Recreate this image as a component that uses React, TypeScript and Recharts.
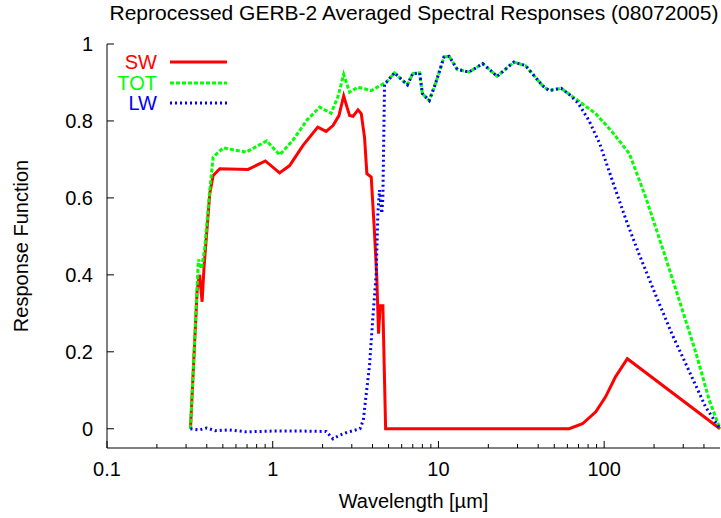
import React from "react";
import { LineChart, Line, XAxis, YAxis } from "recharts";

// wavelengths in micrometres, responses
const swWave = [0.319, 0.35, 0.362, 0.375, 0.385, 0.417, 0.437, 0.479, 0.71, 0.903, 1.1, 1.265, 1.52, 1.87, 2.1, 2.31, 2.51, 2.68, 2.91, 3.05, 3.27, 3.42, 3.58, 3.7, 3.93, 4.1, 4.25, 4.35, 4.45, 4.62, 4.8, 61.5, 74, 89, 102, 117, 138, 500];
const swResp = [0, 0.36, 0.4, 0.33, 0.42, 0.611, 0.658, 0.676, 0.674, 0.696, 0.665, 0.684, 0.736, 0.784, 0.773, 0.788, 0.814, 0.865, 0.814, 0.812, 0.829, 0.819, 0.758, 0.663, 0.654, 0.52, 0.39, 0.247, 0.32, 0.32, 0, 0, 0.013, 0.044, 0.083, 0.135, 0.182, 0];

const totWave = [0.319, 0.356, 0.372, 0.389, 0.417, 0.437, 0.502, 0.69, 0.92, 1.1, 1.32, 1.6, 1.92, 2.25, 2.47, 2.68, 2.91, 3.27, 3.93, 4.86, 5.43, 6.5, 7.0, 7.7, 8.0, 8.8, 9.6, 10.8, 11.6, 13.0, 15.3, 18.5, 22.6, 28.5, 33.5, 42.4, 46.5, 55, 67, 89, 112, 142, 178, 224, 284, 359, 431, 500];
const totResp = [0, 0.44, 0.416, 0.47, 0.619, 0.706, 0.73, 0.719, 0.748, 0.712, 0.749, 0.801, 0.836, 0.82, 0.862, 0.921, 0.875, 0.888, 0.879, 0.901, 0.925, 0.894, 0.923, 0.925, 0.871, 0.853, 0.897, 0.966, 0.968, 0.934, 0.927, 0.949, 0.916, 0.953, 0.944, 0.892, 0.879, 0.885, 0.858, 0.819, 0.771, 0.715, 0.602, 0.472, 0.334, 0.195, 0.074, 0];

const lwWave = [0.319, 0.36, 0.4, 0.45, 0.55, 0.69, 1.0, 1.52, 2.1, 2.31, 2.53, 2.78, 3.05, 3.36, 3.52, 3.65, 3.84, 4.02, 4.21, 4.31, 4.41, 4.55, 4.62, 4.73, 4.86, 5.43, 6.5, 7.0, 7.7, 8.0, 8.8, 9.6, 10.8, 11.6, 13.0, 15.3, 18.5, 22.6, 28.5, 33.5, 42.4, 46.5, 55, 62, 70, 81, 94, 112, 137, 162, 203, 256, 324, 409, 500];
const lwResp = [0, -0.003, 0.002, -0.005, -0.003, -0.008, -0.006, -0.006, -0.007, -0.026, -0.017, -0.01, -0.005, 0, 0.022, 0.083, 0.165, 0.29, 0.4, 0.56, 0.62, 0.56, 0.6, 0.897, 0.901, 0.925, 0.894, 0.923, 0.925, 0.871, 0.853, 0.897, 0.966, 0.968, 0.934, 0.927, 0.949, 0.916, 0.953, 0.944, 0.892, 0.879, 0.885, 0.868, 0.845, 0.801, 0.741, 0.645, 0.537, 0.455, 0.351, 0.247, 0.152, 0.057, 0];

const xMajor = [0.1, 1, 10, 100];
const xTicks = [0.1, 0.2, 0.3, 0.4, 0.5, 0.6, 0.7, 0.8, 0.9, 1, 2, 3, 4, 5, 6, 7, 8, 9, 10, 20, 30, 40, 50, 60, 70, 80, 90, 100, 200, 300, 400];
const yTicks = [0, 0.2, 0.4, 0.6, 0.8, 1];

const toPoints = (w: number[], r: number[]) => w.map((x, i) => ({ x, y: r[i] }));
const swData = toPoints(swWave, swResp);
const totData = toPoints(totWave, totResp);
const lwData = toPoints(lwWave, lwResp);

const series = [
  { name: "SW", color: "#ff0000", dash: undefined },
  { name: "TOT", color: "#00ff00", dash: "4 2" },
  { name: "LW", color: "#0000ff", dash: "2 3" },
];

const FONT = '"Liberation Sans", Arial, sans-serif';
const W = 721;
const H = 518;

const isMajor = (v: number) => xMajor.some((m) => Math.abs(m - v) < 1e-9);

const BottomTick = (props: any) => {
  const { x, y, payload } = props;
  const major = isMajor(payload.value);
  return (
    <g>
      <line x1={x} x2={x} y1={y} y2={y - (major ? 7 : 4)} stroke="#000" />
      {major && (
        <text x={x} y={y + 28} textAnchor="middle" fontSize={20} fontFamily={FONT} fill="#000">
          {String(payload.value)}
        </text>
      )}
    </g>
  );
};

const TopTick = (props: any) => {
  const { x, y, payload } = props;
  const major = isMajor(payload.value);
  return <line x1={x} x2={x} y1={y} y2={y + (major ? 7 : 4)} stroke="#000" />;
};

const LeftTick = (props: any) => {
  const { x, y, payload } = props;
  return (
    <g>
      <line x1={x} x2={x + 7} y1={y} y2={y} stroke="#000" />
      <text x={x - 14} y={y} dy="0.36em" textAnchor="end" fontSize={20} fontFamily={FONT} fill="#000">
        {String(payload.value)}
      </text>
    </g>
  );
};

const RightTick = (props: any) => {
  const { x, y } = props;
  return <line x1={x} x2={x - 7} y1={y} y2={y} stroke="#000" />;
};

export default function App() {
  return (
    <div style={{ position: "absolute", left: 0, top: 0, width: W, height: H, background: "#fff", fontFamily: FONT }}>
      <div style={{ position: "absolute", left: 0, width: W, top: 0, textAlign: "center", paddingLeft: 107, boxSizing: "border-box", fontSize: 21, lineHeight: "26px", color: "#000" }}>
        Reprocessed GERB-2 Averaged Spectral Responses (08072005)
      </div>
      <LineChart width={W} height={H} margin={{ top: 44, right: 1, bottom: 0, left: 0 }}>
        <XAxis
          dataKey="x"
          type="number"
          scale="log"
          domain={[0.1, 500]}
          ticks={xTicks}
          interval={0}
          height={70}
          tickSize={0}
          tickMargin={0}
          tick={<BottomTick />}
          axisLine={{ stroke: "#000" }}
          label={{ value: "Wavelength [µm]", position: "insideBottom", offset: 10, style: { fontSize: 20, fontFamily: FONT, fill: "#000" } }}
        />
        <XAxis
          xAxisId="top"
          orientation="top"
          dataKey="x"
          type="number"
          scale="log"
          domain={[0.1, 500]}
          ticks={xTicks}
          interval={0}
          height={0}
          tickSize={0}
          tickMargin={0}
          tick={<TopTick />}
          axisLine={{ stroke: "#000" }}
        />
        <YAxis
          type="number"
          domain={[-0.05, 1]}
          ticks={yTicks}
          interval={0}
          width={107}
          tickSize={0}
          tickMargin={0}
          tick={<LeftTick />}
          axisLine={{ stroke: "#000" }}
          label={{ value: "Response Function", angle: -90, position: "insideLeft", offset: 21, style: { textAnchor: "middle", fontSize: 20, fontFamily: FONT, fill: "#000" } }}
        />
        <YAxis
          yAxisId="right"
          orientation="right"
          type="number"
          domain={[-0.05, 1]}
          ticks={yTicks}
          interval={0}
          width={0}
          tickSize={0}
          tickMargin={0}
          tick={<RightTick />}
          axisLine={{ stroke: "#000" }}
        />
        <Line data={swData} dataKey="y" name="SW" type="linear" stroke="#ff0000" strokeWidth={3} dot={false} isAnimationActive={false} />
        <Line data={totData} dataKey="y" name="TOT" type="linear" stroke="#00ff00" strokeWidth={3} strokeDasharray="4 2" dot={false} isAnimationActive={false} />
        <Line data={lwData} dataKey="y" name="LW" type="linear" stroke="#0000ff" strokeWidth={3} strokeDasharray="2 3" dot={false} isAnimationActive={false} />
      </LineChart>
      {series.map((s, i) => (
        <div key={s.name} style={{ position: "absolute", left: 0, top: 62 + i * 20.5 - 12, height: 24, width: 230 }}>
          <span style={{ position: "absolute", right: 230 - 157, top: 0, fontSize: 20, lineHeight: "24px", color: s.color }}>{s.name}</span>
          <svg style={{ position: "absolute", left: 170, top: 0 }} width={58} height={24}>
            <line x1={0} x2={57} y1={12} y2={12} stroke={s.color} strokeWidth={3} strokeDasharray={s.dash} />
          </svg>
        </div>
      ))}
    </div>
  );
}
